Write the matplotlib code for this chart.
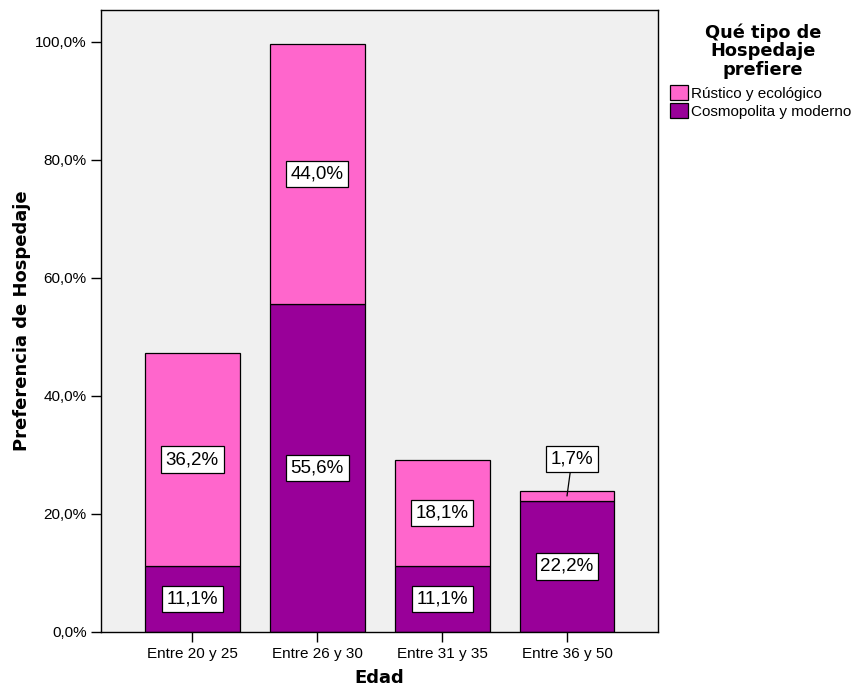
import numpy as np
import matplotlib
matplotlib.use("Agg")
import matplotlib.pyplot as plt
from matplotlib.patches import Patch

# data
groups = ["Entre 20 y 25", "Entre 26 y 30", "Entre 31 y 35", "Entre 36 y 50"]
cosmopolita = [11.1, 55.6, 11.1, 22.2]
rustico = [36.2, 44.0, 18.1, 1.7]
series_names = ["Rústico y ecológico", "Cosmopolita y moderno"]
yticks = [0, 20, 40, 60, 80, 100]

pink = "#FF66CC"
purple = "#990099"

def fmt(v):
    return f"{v:.1f}%".replace(".", ",")

fig = plt.figure(figsize=(8.57, 6.88), dpi=100)
ax = fig.add_axes([0.118, 0.0814, 0.650, 0.9041])
ax.set_facecolor("#F0F0F0")

x = np.arange(len(groups))
w = 0.76
ax.bar(x, cosmopolita, w, color=purple, edgecolor="black", linewidth=0.9, zorder=2)
ax.bar(x, rustico, w, bottom=cosmopolita, color=pink, edgecolor="black", linewidth=0.9, zorder=2)

box = dict(boxstyle="square,pad=0.25", facecolor="white", edgecolor="black", linewidth=0.9)
lab_font = dict(fontsize=13.5, family="Liberation Sans")
for i in range(len(groups)):
    ax.text(x[i], cosmopolita[i] / 2, fmt(cosmopolita[i]), ha="center", va="center",
            bbox=box, zorder=4, **lab_font)
    mid = cosmopolita[i] + rustico[i] / 2
    if rustico[i] < 5:
        # small segment: label sits above the bar with a leader line
        ax.annotate(fmt(rustico[i]), xy=(x[i], mid), xytext=(x[i] + 0.04, cosmopolita[i] + rustico[i] + 5.4),
                    ha="center", va="center", bbox=box, zorder=4,
                    arrowprops=dict(arrowstyle="-", color="black", linewidth=0.9, shrinkA=0, shrinkB=0),
                    **lab_font)
    else:
        ax.text(x[i], mid, fmt(rustico[i]), ha="center", va="center",
                bbox=box, zorder=4, **lab_font)

ax.set_xlim(-0.73, 3.73)
ax.set_ylim(0, 105.4)
ax.set_yticks(yticks)
ax.set_yticklabels([fmt(v) for v in yticks], fontsize=11, family="Liberation Sans")
ax.set_xticks(x)
ax.set_xticklabels(groups, fontsize=11, family="Liberation Sans")
ax.tick_params(direction="out", length=7, width=1)
for s in ax.spines.values():
    s.set_linewidth(1)

ax.set_ylabel("Preferencia de Hospedaje", fontsize=13, fontweight="bold", labelpad=3)
ax.set_xlabel("Edad", fontsize=13, fontweight="bold", labelpad=6)

# legend title drawn separately so it can be centred like the original
fig.text(763 / 857, 1 - 23 / 688, "Qué tipo de\nHospedaje\nprefiere", ha="center", va="top",
         fontsize=12.8, fontweight="bold", linespacing=1.07)
handles = [Patch(facecolor=pink, edgecolor="black", linewidth=0.9),
           Patch(facecolor=purple, edgecolor="black", linewidth=0.9)]
fig.legend(handles, series_names, loc="upper left", bbox_to_anchor=(670 / 857, 1 - 85 / 688),
           frameon=False, prop=dict(family="Liberation Sans", size=11),
           handlelength=1.18, handleheight=1.18, handletextpad=0.2,
           labelspacing=0.13, borderaxespad=0, borderpad=0)

fig.savefig("out.png", dpi=100)
